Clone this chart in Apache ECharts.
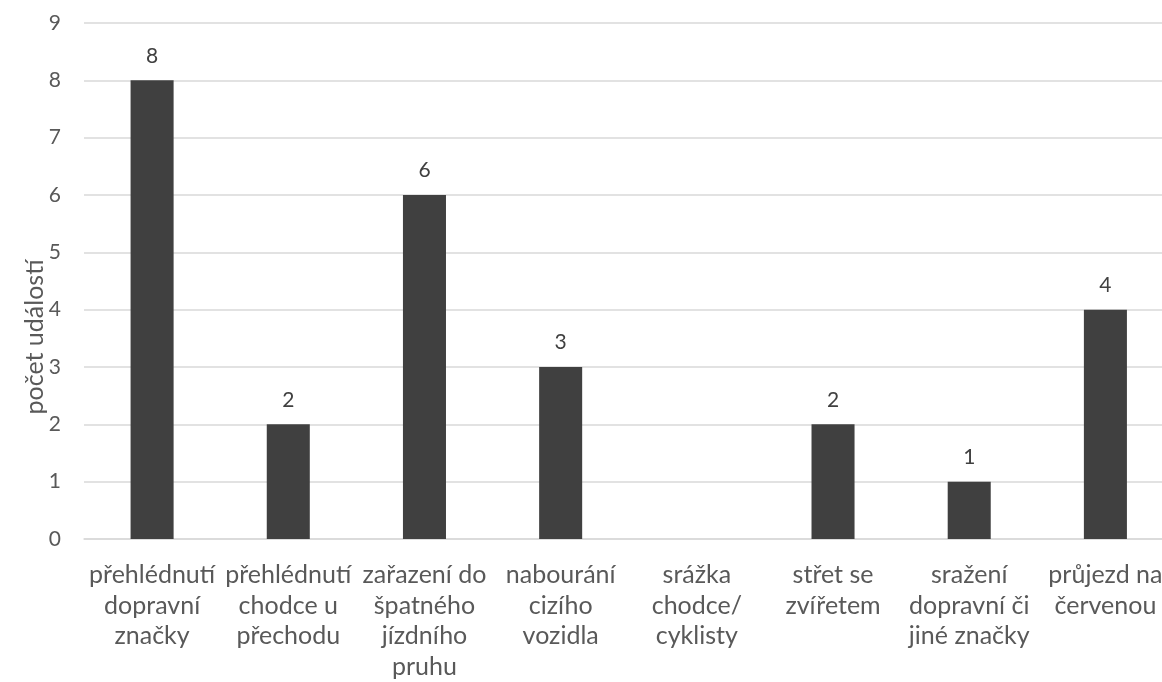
<!DOCTYPE html>
<html>
<head>
<meta charset="utf-8">
<script src="https://cdn.jsdelivr.net/npm/echarts@6/dist/echarts.min.js"></script>
<style>html,body{margin:0;padding:0;background:#fff}#c{width:1162px;height:682px}</style>
</head>
<body>
<div id="c"></div>
<script>
const categories = [
  'přehlédnutí\ndopravní\nznačky',
  'přehlédnutí\nchodce u\npřechodu',
  'zařazení do\nšpatného\njízdního\npruhu',
  'nabourání\ncizího\nvozidla',
  'srážka\nchodce/\ncyklisty',
  'střet se\nzvířetem',
  'sražení\ndopravní či\njiné značky',
  'průjezd na\nčervenou'
];
const values = [8, 2, 6, 3, 0, 2, 1, 4];
const yTicks = [0, 1, 2, 3, 4, 5, 6, 7, 8, 9];
const yAxisTitle = 'počet událostí';

const FONT = 'Lato';
const TXT = '#595959';
const chart = echarts.init(document.getElementById('c'));
chart.setOption({
  animation: false,
  backgroundColor: '#fff',
  grid: { left: 84, right: -11.5, top: 23, bottom: 143, containLabel: false, outerBoundsMode: 'none' },
  xAxis: {
    type: 'category',
    data: categories,
    axisLine: { show: true, lineStyle: { color: '#d9d9d9', width: 1.5 } },
    axisTick: { show: false },
    axisLabel: { color: TXT, fontFamily: FONT, fontSize: 25, lineHeight: 30.5, margin: 21, interval: 0 }
  },
  yAxis: {
    type: 'value',
    min: yTicks[0],
    max: yTicks[yTicks.length - 1],
    interval: 1,
    axisLine: { show: false },
    axisTick: { show: false },
    splitLine: { lineStyle: { color: '#d9d9d9', width: 1.5 } },
    axisLabel: { color: TXT, fontFamily: FONT, fontSize: 21, margin: 23 }
  },
  graphic: [{
    type: 'text',
    x: 35, y: 337,
    rotation: Math.PI / 2,
    style: { text: yAxisTitle, fill: TXT, font: '25px ' + FONT, textAlign: 'center', textVerticalAlign: 'middle' }
  }],
  series: [{
    type: 'bar',
    data: values,
    barWidth: '31.6%',
    itemStyle: { color: '#404040' },
    label: {
      show: true, position: 'top', distance: 14,
      color: '#404040', fontFamily: FONT, fontSize: 21,
      formatter: p => p.value === 0 ? '' : String(p.value)
    }
  }]
});
</script>
</body>
</html>
